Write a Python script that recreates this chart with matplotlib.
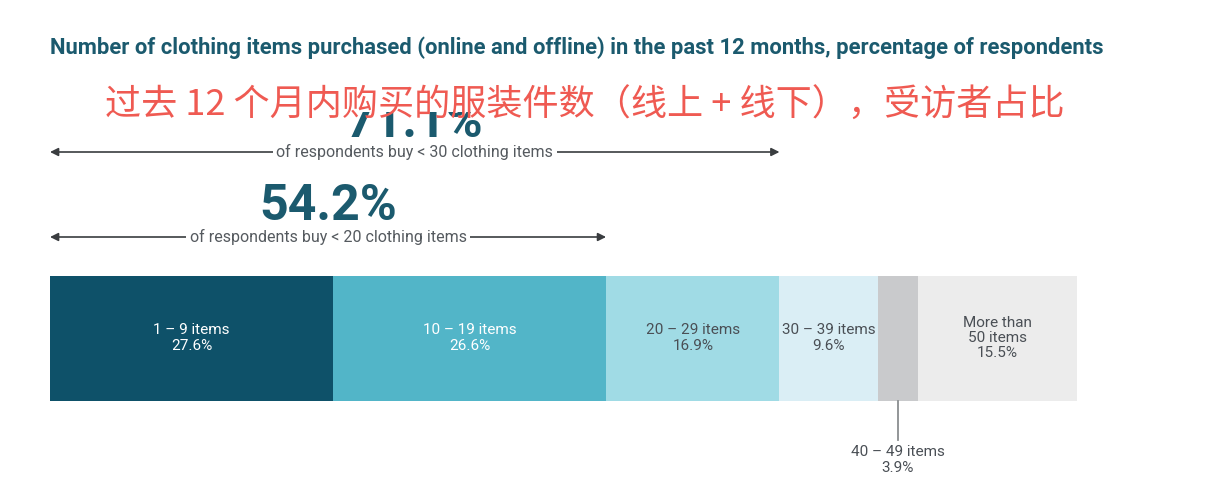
import numpy as np
import matplotlib.pyplot as plt

# share of respondents by number of clothing items bought in the past 12 months
labels = ['1 – 9 items', '10 – 19 items', '20 – 29 items', '30 – 39 items',
          '40 – 49 items', 'More than\n50 items']
shares = [27.6, 26.6, 16.9, 9.6, 3.9, 15.5]
colors = ['#0e5169', '#52b5c8', '#a0dbe5', '#daeef5', '#c9cacc', '#ececec']
text_colors = ['white', 'white', '#4a4f55', '#4a4f55', '#4a4f55', '#4a4f55']

title = 'Number of clothing items purchased (online and offline) in the past 12 months, percentage of respondents'
title_cn = '过去 12 个月内购买的服装件数（线上 + 线下），受访者占比'

plt.rcParams['font.family'] = ['Roboto', 'DejaVu Sans']

W, H = 1211, 491
fig = plt.figure(figsize=(W / 100, H / 100), dpi=100)
fig.patch.set_facecolor('white')

# bar axis: x in percent, y in pixels from the top
ax = fig.add_axes([50 / W, 0, 1027 / W, 1])
total = sum(shares)
ax.set_xlim(0, total)
ax.set_ylim(H, 0)
ax.axis('off')

cum = np.cumsum([0] + shares[:-1])
ax.barh(338.5, shares, left=cum, height=125, color=colors, edgecolor='none')

for lab, v, c0, tc in zip(labels, shares, cum, text_colors):
    xc = c0 + v / 2
    if lab.startswith('40'):
        ax.plot([xc, xc], [401, 440], color='#8a8d90', lw=1.3, clip_on=False)
        ax.text(xc, 460, f'{lab}\n{v}%', ha='center', va='center', color='#4a4f55',
                fontsize=11, linespacing=1.1)
    else:
        ax.text(xc, 338, f'{lab}\n{v}%', ha='center', va='center', color=tc,
                fontsize=11, linespacing=1.1)

# bracket arrows for cumulative shares
c20 = shares[0] + shares[1]
c30 = c20 + shares[2]
for val, y, ybig, n in [(c30, 152, 123, 30), (c20, 237, 207, 20)]:
    ax.annotate('', xy=(val, y), xytext=(0, y),
                arrowprops=dict(arrowstyle='<|-|>', color='#3a3d40', lw=1.2,
                                mutation_scale=12, shrinkA=0, shrinkB=0))
    ax.text(val / 2, y, f'of respondents buy < {n} clothing items', ha='center', va='center',
            fontsize=11.5, color='#555a5f',
            bbox=dict(facecolor='white', edgecolor='none', pad=2.5))
    ax.text(val / 2, ybig, f'{val:.1f}%', ha='center', va='center', fontsize=36,
            fontweight='bold', color='#1b5a6e')

# titles
fig.text(50 / W, 1 - 48 / H, title, ha='left', va='center', fontsize=15.8,
         fontweight='bold', color='#1b5a6e')
fig.add_artist(plt.Rectangle((100 / W, 1 - 112 / H), 980 / W, 30 / H,
                             transform=fig.transFigure, facecolor='white',
                             edgecolor='none', zorder=3))
fig.text(585 / W, 1 - 106 / H, title_cn, ha='center', va='center', fontsize=26,
         color='#ef5a52', family=['Noto Sans CJK SC', 'DejaVu Sans'], zorder=4)

fig.savefig('out.png', dpi=100, facecolor='white')
